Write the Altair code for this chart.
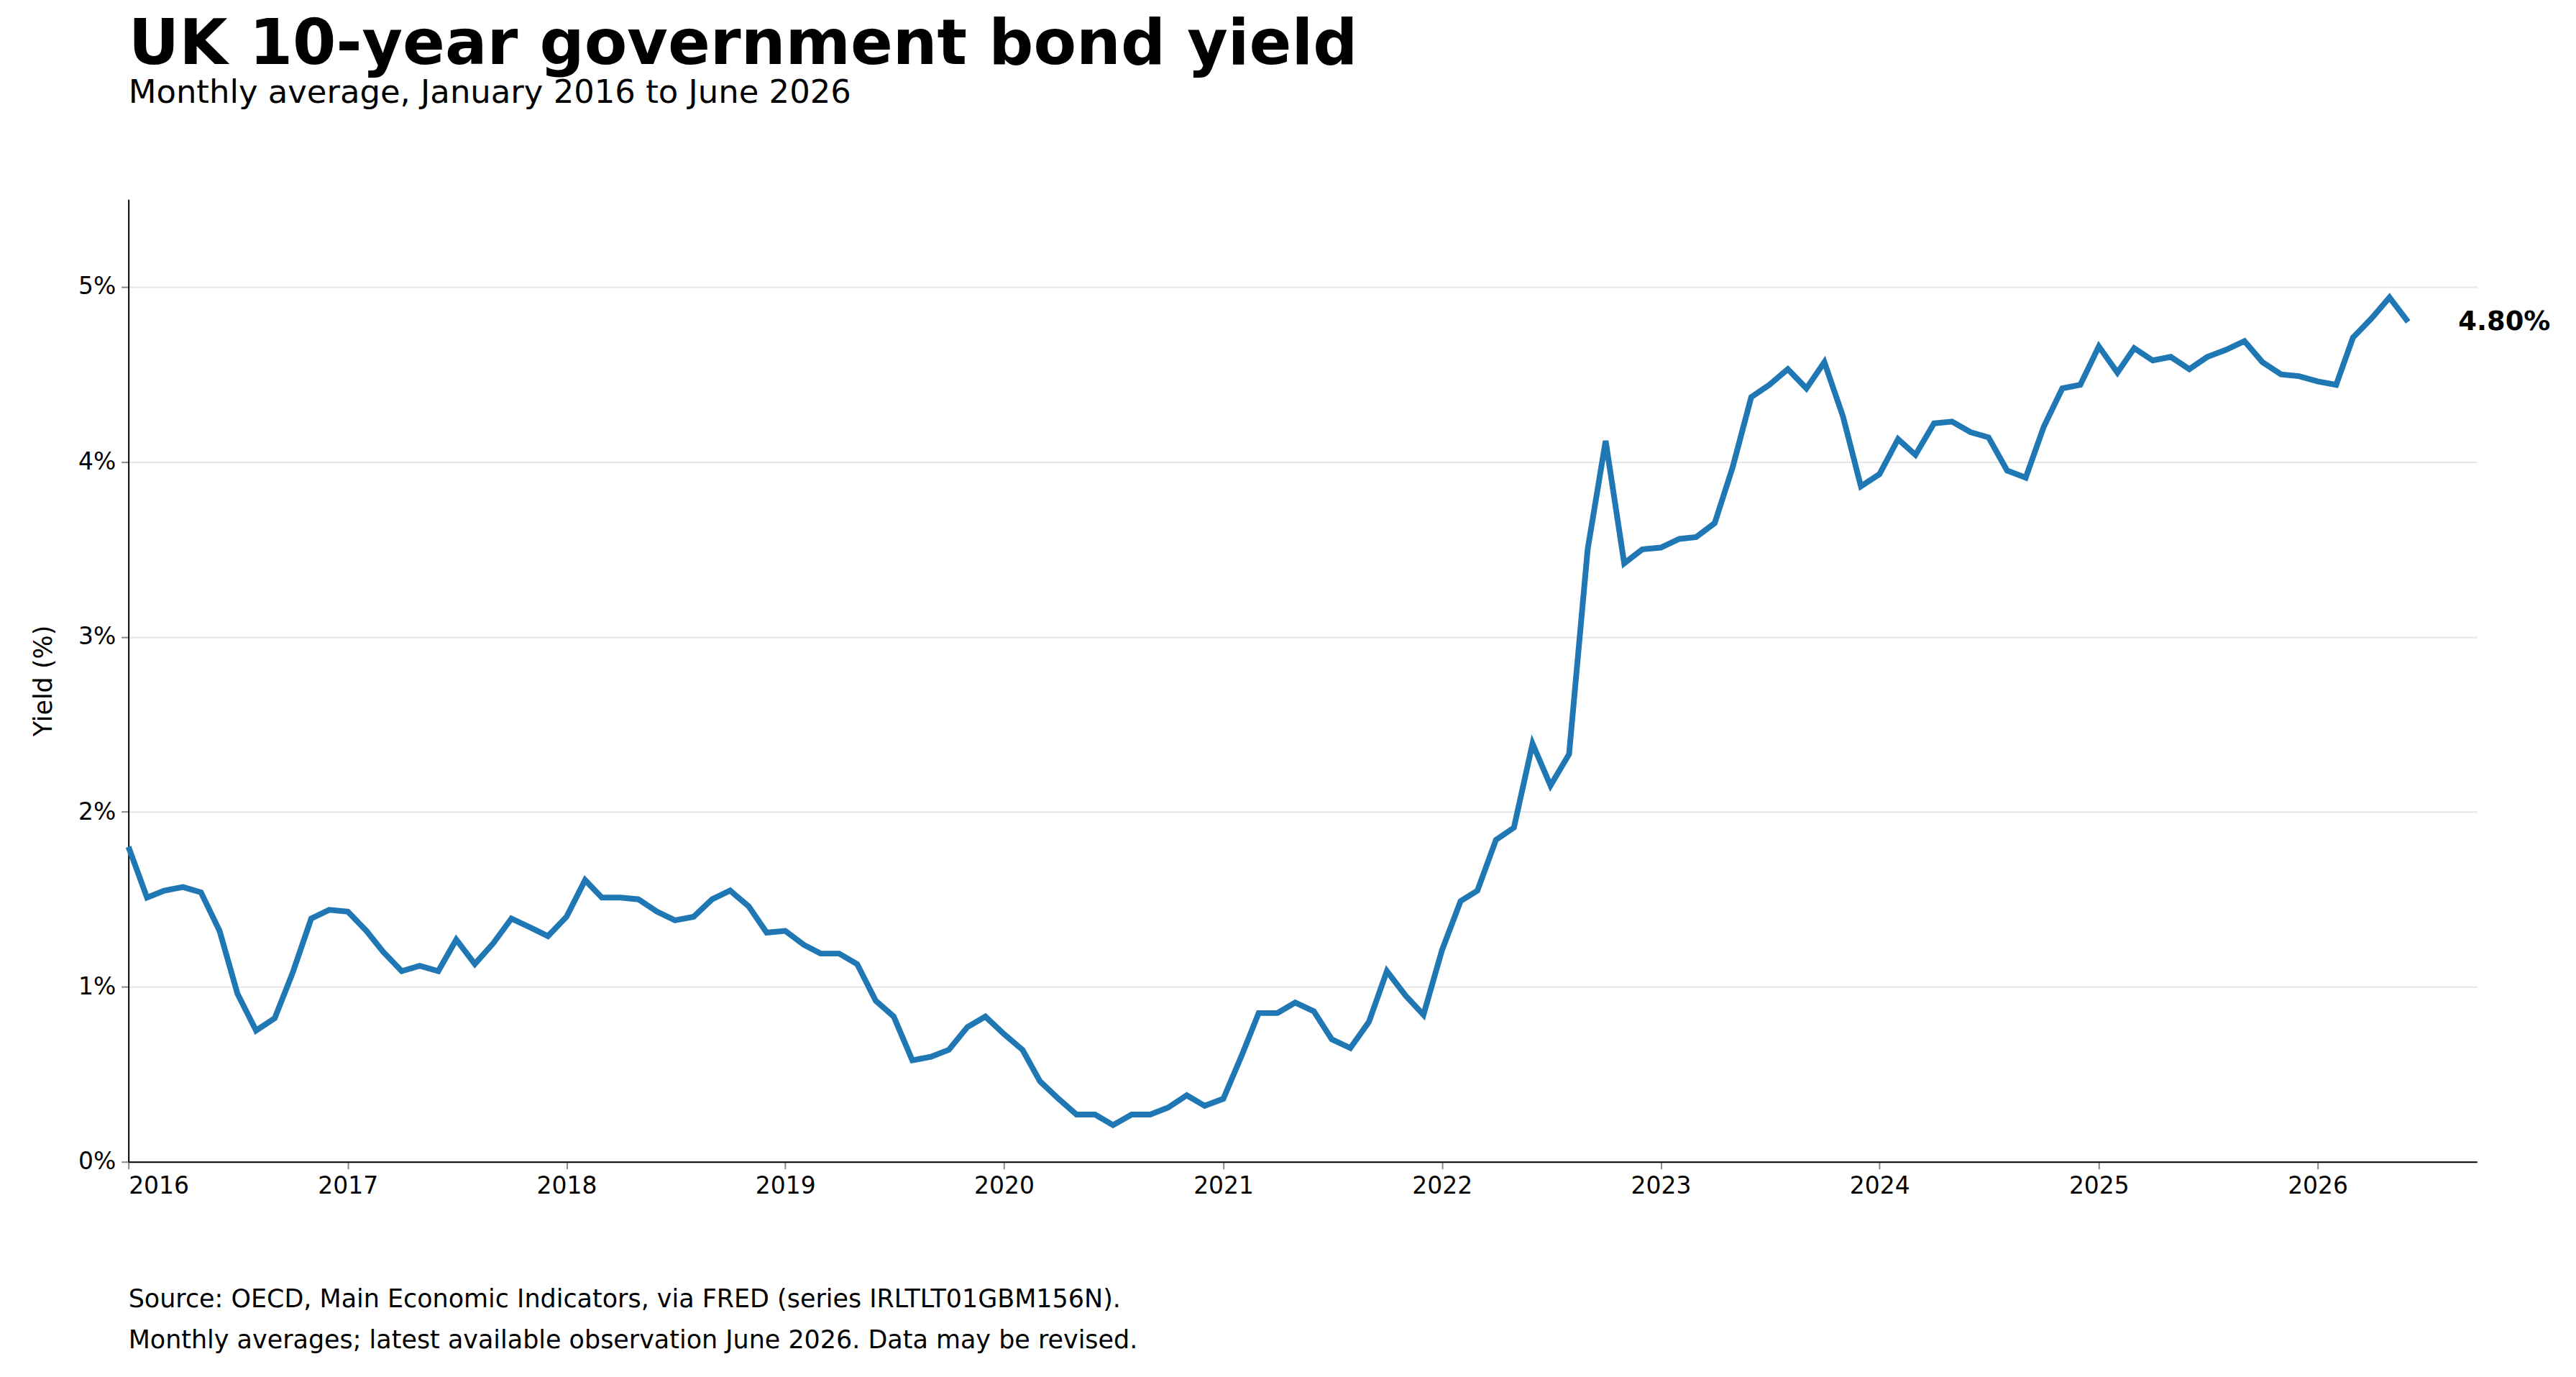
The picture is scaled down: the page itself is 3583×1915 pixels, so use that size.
import altair as alt
import pandas as pd

# Monthly averages, Jan 2016 - Jun 2026
y2016 = [1.80, 1.51, 1.55, 1.57, 1.54, 1.32, 0.96, 0.75, 0.82, 1.08, 1.39, 1.44]
y2017 = [1.43, 1.32, 1.20, 1.09, 1.12, 1.09, 1.27, 1.13, 1.25, 1.39, 1.34, 1.29]
y2018 = [1.40, 1.61, 1.51, 1.51, 1.50, 1.43, 1.38, 1.40, 1.50, 1.55, 1.46, 1.31]
y2019 = [1.32, 1.24, 1.19, 1.19, 1.13, 0.92, 0.83, 0.58, 0.60, 0.64, 0.77, 0.83]
y2020 = [0.73, 0.64, 0.46, 0.36, 0.27, 0.27, 0.21, 0.27, 0.27, 0.31, 0.38, 0.32]
y2021 = [0.36, 0.61, 0.85, 0.85, 0.91, 0.86, 0.70, 0.65, 0.80, 1.09, 0.95, 0.84]
y2022 = [1.21, 1.49, 1.55, 1.84, 1.91, 2.39, 2.15, 2.33, 3.50, 4.12, 3.42, 3.50]
y2023 = [3.51, 3.56, 3.57, 3.65, 3.97, 4.37, 4.44, 4.53, 4.42, 4.57, 4.26, 3.86]
y2024 = [3.93, 4.13, 4.04, 4.22, 4.23, 4.17, 4.14, 3.95, 3.91, 4.20, 4.42, 4.44]
y2025 = [4.66, 4.51, 4.65, 4.58, 4.60, 4.53, 4.60, 4.64, 4.69, 4.57, 4.50, 4.49]
y2026 = [4.46, 4.44, 4.71, 4.82, 4.94, 4.80]

values = y2016 + y2017 + y2018 + y2019 + y2020 + y2021 + y2022 + y2023 + y2024 + y2025 + y2026
dates = pd.date_range("2016-01-01", periods=len(values), freq="MS")
df = pd.DataFrame({"date": dates.strftime("%Y-%m-%d"), "yield": values})
last = df.tail(1).assign(label="4.80%")

FONT = "DejaVu Sans"
W, H = 3273, 1341

x = alt.X("utcyearmonthdate(date):T", title=None,
          scale=alt.Scale(domain=[alt.DateTime(year=2016, month=1, date=1, utc=True),
                                  alt.DateTime(year=2026, month=9, date=24, utc=True)]),
          axis=alt.Axis(format="%Y", tickCount={"interval": "year", "step": 1},
                        grid=False, labelFontSize=33, tickSize=10, tickWidth=2,
                        domainColor="black", domainWidth=2, labelPadding=8,
                        labelFont=FONT, labelColor="black"))
y = alt.Y("yield:Q", title="Yield (%)",
          scale=alt.Scale(domain=[0, 5.5], nice=False),
          axis=alt.Axis(values=[0, 1, 2, 3, 4, 5], labelExpr="datum.value + '%'",
                        gridColor="#e6e6e6", gridWidth=2, labelFontSize=33,
                        tickSize=10, tickWidth=2, domainColor="black", domainWidth=2,
                        titleFontSize=35, titleFontWeight="normal", titlePadding=30,
                        labelFont=FONT, titleFont=FONT, labelColor="black",
                        titleColor="black", labelPadding=8))

line = alt.Chart(df).mark_line(color="#1f77b4", strokeWidth=8).encode(x=x, y=y)

label = alt.Chart(last).mark_text(align="left", dx=70, fontSize=37, fontWeight="bold",
                                  font=FONT, color="black").encode(
    x="utcyearmonthdate(date):T", y="yield:Q", text="label:N")

foot1 = alt.Chart(pd.DataFrame({"t": ["Source: OECD, Main Economic Indicators, via FRED (series IRLTLT01GBM156N)."]})).mark_text(
    align="left", baseline="alphabetic", fontSize=35, font=FONT, color="black").encode(
    x=alt.value(0), y=alt.value(1544), text="t:N")
foot2 = alt.Chart(pd.DataFrame({"t": ["Monthly averages; latest available observation June 2026. Data may be revised."]})).mark_text(
    align="left", baseline="alphabetic", fontSize=35, font=FONT, color="black").encode(
    x=alt.value(0), y=alt.value(1601), text="t:N")

chart = alt.layer(line, label, foot1, foot2).properties(
    width=W, height=H,
    autosize=alt.AutoSizeParams(type="none"),
    padding={"left": 171, "top": 268, "right": 130, "bottom": 290},
    title=alt.TitleParams(
        "UK 10-year government bond yield",
        subtitle="Monthly average, January 2016 to June 2026",
        anchor="start", fontSize=87, fontWeight="bold", font=FONT, color="black",
        subtitleFontSize=45, subtitleFont=FONT, subtitleColor="black",
        subtitlePadding=0, offset=125, frame="group"),
).configure_view(stroke=None)

chart.save("out.html", embed_options={"renderer": "svg", "actions": False})
